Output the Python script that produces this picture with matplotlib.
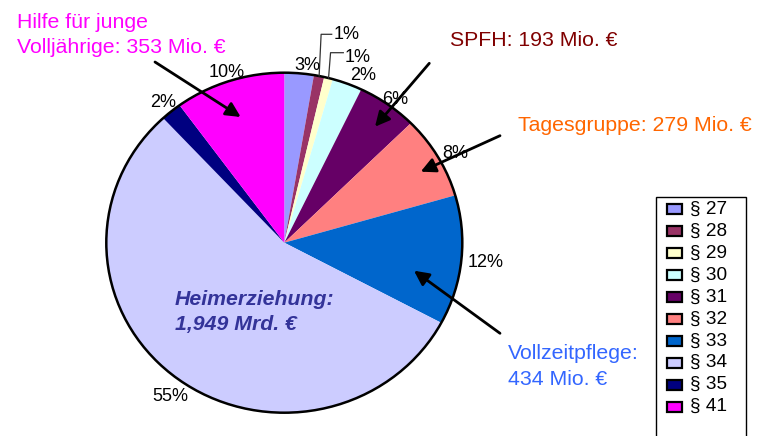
import numpy as np
import matplotlib.pyplot as plt
from matplotlib.patches import Circle, Rectangle

plt.rcParams['font.family'] = ['Liberation Sans', 'DejaVu Sans']

# Ausgaben je Hilfeart in Mio. Euro (aus dem Bild geschaetzt)
paragraphs = ['§ 27', '§ 28', '§ 29', '§ 30', '§ 31', '§ 32', '§ 33', '§ 34', '§ 35', '§ 41']
costs = [94, 33, 28, 96, 193, 279, 434, 1949, 67, 353]
pct_labels = ['3%', '1%', '1%', '2%', '6%', '8%', '12%', '55%', '2%', '10%']
colors = ['#9999FF', '#993366', '#FFFFCC', '#CCFFFF', '#660066',
          '#FF8080', '#0066CC', '#CCCCFF', '#000080', '#FF00FF']

# radial distance of each percent label (Excel places them a bit irregularly)
label_r = [1.053, 0, 0, 1.08, 1.046, 1.097, 1.137, 1.112, 1.067, 1.055]
label_turn = [0.04, 0, 0, 0.06, 0.02, 0.03, 0.0, -0.04, 0.0, 0.0]

W, H = 759, 436
cx, cy = 284.3, 242.7   # pie centre in pixels (from top)
rx, ry = 178, 170       # pie is a bit wider than high


def fp(x, y):  # pixel (from top left) -> figure fraction
    return (x / W, 1 - y / H)


fig = plt.figure(figsize=(W / 100, H / 100), dpi=100)
ax = fig.add_axes([0, 0, 1, 1])
wedges, _ = ax.pie(costs, colors=colors, startangle=90, counterclock=False,
                   wedgeprops=dict(linewidth=0))
ax.set_aspect('auto')
ax.set_xlim(-cx / rx, (W - cx) / rx)
ax.set_ylim(-(H - cy) / ry, cy / ry)
ax.add_patch(Circle((0, 0), 1, fill=False, lw=1.8, ec='black'))
ax.axis('off')

# percent labels around the pie
frac = np.cumsum(costs) / np.sum(costs)
mid = (frac - np.array(costs) / np.sum(costs) / 2) * 2 * np.pi
for i, lab in enumerate(pct_labels):
    if i in (1, 2):
        continue
    a = mid[i] + label_turn[i]
    ax.text(label_r[i] * np.sin(a), label_r[i] * np.cos(a), lab, ha='center', va='center',
            fontsize=13)

# the two small 1% slices get leader lines
for i, top, end in ((1, 34.3, 331.7), (2, 52.7, 343.3)):
    x0, y0 = np.sin(mid[i]), np.cos(mid[i])
    px0 = cx + rx * x0
    xs = [x0, (px0 + 2 - cx) / rx, (end - cx) / rx]
    ys = [y0, (cy - top) / ry, (cy - top) / ry]
    ax.plot(xs, ys, color='#333333', lw=0.9)
    ax.text(xs[-1] + 1.5 / rx, ys[-1] - (0 if i == 1 else 5 / ry), '1%', ha='left', va='center',
            fontsize=13)

# callouts
fig.text(*fp(16.7, 28), 'Hilfe für junge', color='#FF00FF', fontsize=15.3)
fig.text(*fp(16.7, 53), 'Volljährige: 353 Mio. €', color='#FF00FF', fontsize=15.3)
fig.text(*fp(450, 46), 'SPFH: 193 Mio. €', color='#800000', fontsize=15.3)
fig.text(*fp(518.3, 131), 'Tagesgruppe: 279 Mio. €', color='#FF6600', fontsize=15.3)
fig.text(*fp(508.3, 359), 'Vollzeitpflege:', color='#3366FF', fontsize=15.3)
fig.text(*fp(508.3, 385), '434 Mio. €', color='#3366FF', fontsize=15.3)
fig.text(*fp(175, 305), 'Heimerziehung:', color='#333399', fontsize=15.3,
         fontweight='bold', fontstyle='italic')
fig.text(*fp(175, 330), '1,949 Mrd. €', color='#333399', fontsize=15.3,
         fontweight='bold', fontstyle='italic')

arrows = [((155, 62), (240.7, 117)), ((429.3, 63.3), (375, 126.7)),
          ((500, 135.7), (420.7, 171.7)), ((500, 333.3), (414, 270.7))]
for start, tip in arrows:
    ax.annotate('', xy=fp(*tip), xycoords='figure fraction',
                xytext=fp(*start), textcoords='figure fraction',
                arrowprops=dict(arrowstyle='-|>', color='black', lw=2,
                                mutation_scale=22, shrinkA=0, shrinkB=0))

# legend box (cut off at the bottom like in the original)
fig.add_artist(Rectangle(fp(655.7, 470), 90.3 / W, (470 - 196.7) / H,
                         transform=fig.transFigure, fill=False, ec='black', lw=1))
for k, (name, c) in enumerate(zip(paragraphs, colors)):
    yc = 209.3 + k * 21.93
    fig.add_artist(Rectangle(fp(667, yc + 5), 14.5 / W, 10 / H, transform=fig.transFigure,
                             fc=c, ec='black', lw=1.6))
    fig.text(*fp(690, yc), name, fontsize=13.7, va='center')

fig.savefig('out.png', dpi=100)
